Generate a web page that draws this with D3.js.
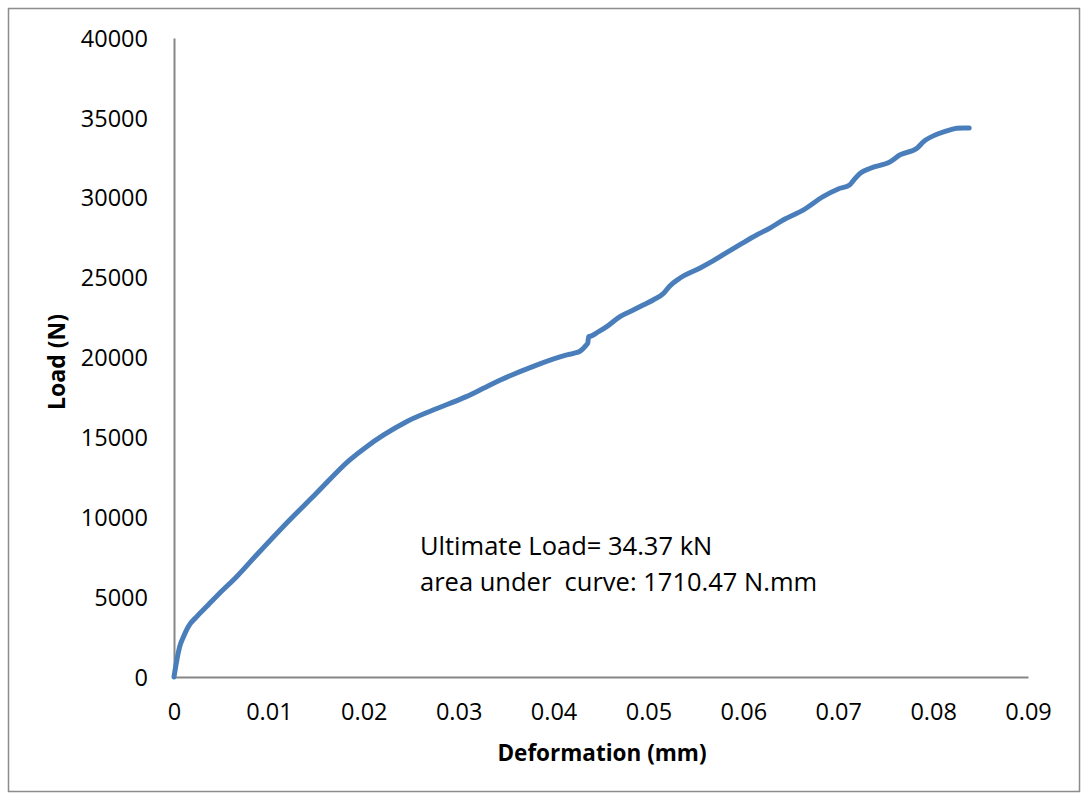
<!DOCTYPE html>
<html>
<head>
<meta charset="utf-8">
<script src="https://cdn.jsdelivr.net/npm/d3@7"></script>
<style>
  html, body { margin: 0; padding: 0; background: #fff; }
  svg { display: block; }
  text { font-family: "Open Sans", Lato, sans-serif; fill: #000; white-space: pre; }
</style>
</head>
<body>
<svg id="chart" width="1081" height="794"></svg>
<script>
// Load–deformation record of the specimen
const deformation = [
  0, 0.0003, 0.0006, 0.0010, 0.0015, 0.0024, 0.0036, 0.0048, 0.0066, 0.0087,
  0.0115, 0.0150, 0.0185, 0.0203, 0.0221, 0.0245, 0.0273, 0.0308, 0.0326, 0.0344,
  0.0378, 0.0414, 0.0421, 0.0428, 0.0434, 0.0436, 0.0437, 0.0440, 0.0445, 0.0456,
  0.0470, 0.0484, 0.0495, 0.0505, 0.0516, 0.0522, 0.0533, 0.0554, 0.0568, 0.0581,
  0.0596, 0.0614, 0.0628, 0.0642, 0.0663, 0.0684, 0.0700, 0.0712, 0.0717, 0.0723,
  0.0734, 0.0755, 0.0765, 0.0783, 0.0790, 0.0807, 0.0818, 0.0825, 0.0832, 0.0838
];
const load = [
  0, 1060, 1900, 2520, 3150, 3780, 4510, 5240, 6280, 7640,
  9410, 11500, 13580, 14420, 15150, 15980, 16710, 17550, 18070, 18590,
  19430, 20160, 20260, 20400, 20750, 20900, 21300, 21350, 21530, 21930,
  22560, 22970, 23300, 23600, 24020, 24450, 24960, 25590, 26050, 26520,
  27050, 27670, 28100, 28610, 29230, 30070, 30550, 30800, 31150, 31530,
  31850, 32260, 32680, 33100, 33510, 34040, 34250, 34350, 34370, 34370
];

const xTicks = [0, 0.01, 0.02, 0.03, 0.04, 0.05, 0.06, 0.07, 0.08, 0.09];
const yTicks = [0, 5000, 10000, 15000, 20000, 25000, 30000, 35000, 40000];
const notes = ["Ultimate Load= 34.37 kN", "area under  curve: 1710.47 N.mm"];

const svg = d3.select("#chart");

// outer chart frame
svg.append("rect")
  .attr("x", 8.5).attr("y", 8.5)
  .attr("width", 1071).attr("height", 783)
  .attr("fill", "none").attr("stroke", "#8c8c8c").attr("stroke-width", 1.5);

const x = d3.scaleLinear().domain([0, 0.09]).range([174, 1028]);
const y = d3.scaleLinear().domain([0, 40000]).range([677, 38]);

// axes: plain grey lines, no tick marks
const xAxis = svg.append("g").attr("transform", `translate(0,${y(0)})`)
  .call(d3.axisBottom(x).tickValues(xTicks).tickSize(0)
    .tickFormat(d => d === 0 ? "0" : d3.format(".2f")(d)));
const yAxis = svg.append("g").attr("transform", `translate(${x(0)},0)`)
  .call(d3.axisLeft(y).tickValues(yTicks).tickSize(0).tickPadding(26)
    .tickFormat(d3.format("d")));

[xAxis, yAxis].forEach(g => {
  g.select(".domain").attr("stroke", "#868686").attr("stroke-width", 2);
  g.selectAll("text").style("font-size", "23.5px").attr("fill", "#000");
});
xAxis.selectAll("text").attr("y", 35).attr("dy", "0.35em");
yAxis.selectAll("text").attr("dy", "0.35em");

// curve
const pts = deformation.map((d, i) => [d, load[i]]);
svg.append("path")
  .datum(pts)
  .attr("fill", "none")
  .attr("stroke", "#4a7ebb")
  .attr("stroke-width", 5)
  .attr("stroke-linejoin", "round")
  .attr("stroke-linecap", "round")
  .attr("d", d3.line().x(d => x(d[0])).y(d => y(d[1])).curve(d3.curveMonotoneX));

// axis titles
svg.append("text")
  .attr("x", 602).attr("y", 753).attr("dy", "0.35em")
  .attr("text-anchor", "middle")
  .style("font-size", "22.5px").style("font-weight", "bold")
  .text("Deformation (mm)");
svg.append("text")
  .attr("transform", "translate(57,362) rotate(-90)")
  .attr("dy", "0.35em")
  .attr("text-anchor", "middle")
  .style("font-size", "23px").style("font-weight", "bold")
  .text("Load (N)");

// annotation
svg.selectAll("text.note")
  .data(notes)
  .join("text")
  .attr("class", "note")
  .attr("x", 420)
  .attr("y", (d, i) => 546 + i * 36)
  .attr("dy", "0.35em")
  .style("font-size", "25.5px")
  .text(d => d);
</script>
</body>
</html>
